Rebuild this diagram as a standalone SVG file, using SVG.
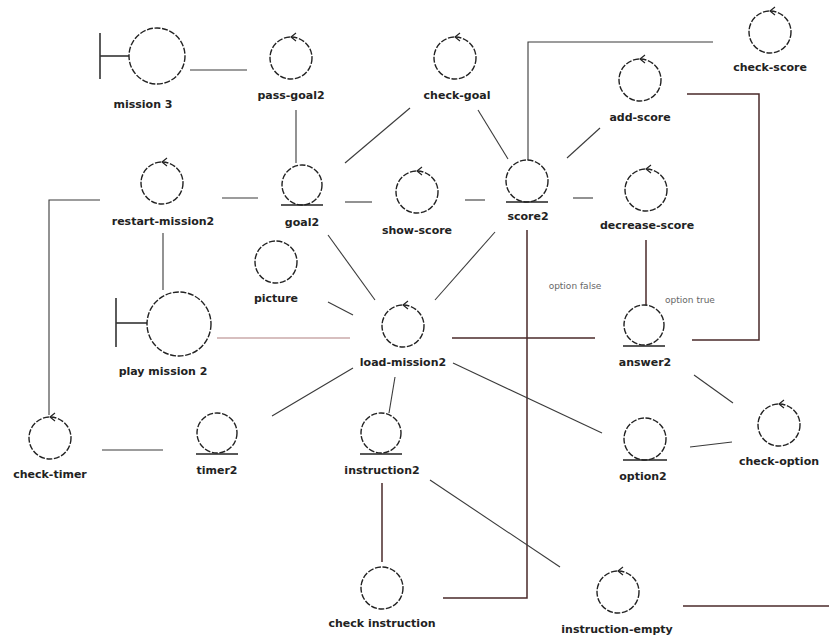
<svg xmlns="http://www.w3.org/2000/svg" width="829" height="637" viewBox="0 0 829 637">
<style>
.bg{fill:#fff}
.c{fill:none;stroke:#222;stroke-width:1.4;stroke-dasharray:6 1.6}
.u{stroke:#222;stroke-width:1.4}
.a{fill:none;stroke:#222;stroke-width:1.2}
.bar{stroke:#333;stroke-width:1.6}
.l{font-family:"DejaVu Sans",Verdana,sans-serif;font-size:11px;font-weight:bold;fill:#222;text-anchor:middle}
.s{font-family:"DejaVu Sans",Verdana,sans-serif;font-size:9px;fill:#666;text-anchor:middle}
.e{fill:none;stroke:#3a3a3a;stroke-width:1.1}
.r{fill:none;stroke:#b08080;stroke-width:1.1}
.d{fill:none;stroke:#4a2a2a;stroke-width:1.5}
</style>
<rect class="bg" x="0" y="0" width="829" height="637"/>
<g id="connectors">
<path class="e" d="M190,70 H247"/>
<path class="e" d="M296,110 V163"/>
<path class="e" d="M410,108 L345,163"/>
<path class="e" d="M478,110 L508,159"/>
<path class="e" d="M528,160 V42 H713"/>
<path class="e" d="M600,128 L567,158"/>
<path class="d" d="M687,94 H759 V340 H692"/>
<path class="e" d="M345,202 H372"/>
<path class="e" d="M465,200 H485"/>
<path class="e" d="M573,198 H593"/>
<path class="d" d="M646,240 V305"/>
<path class="e" d="M222,198 H258"/>
<path class="e" d="M100,200 H49 V415"/>
<path class="e" d="M163,233 V290"/>
<path class="r" d="M217,338 H350"/>
<path class="d" d="M452,338 H595"/>
<path class="e" d="M328,235 L375,300"/>
<path class="e" d="M495,232 L435,300"/>
<path class="e" d="M328,302 L353,315"/>
<path class="d" d="M527,230 V598 H443"/>
<path class="e" d="M272,416 L353,368"/>
<path class="e" d="M102,450 H163"/>
<path class="e" d="M395,377 L389,413"/>
<path class="d" d="M382,483 V562"/>
<path class="e" d="M430,480 L560,567"/>
<path class="d" d="M683,606 H829"/>
<path class="e" d="M453,363 L602,433"/>
<path class="e" d="M690,447 L732,442"/>
<path class="e" d="M694,375 L733,403"/>
<text class="s" x="575" y="289">option false</text>
<text class="s" x="690" y="303">option true</text>
</g>
<g id="mission-3">
<line class="bar" x1="100" y1="33" x2="100" y2="79"/><line class="bar" x1="100" y1="56" x2="129" y2="56"/>
<circle class="c" cx="157" cy="56" r="28"/>
<text class="l" x="143" y="108">mission 3</text>
</g>
<g id="pass-goal2">
<circle class="c" cx="291" cy="58" r="21"/><path class="a" d="M296,33 L291,37 L296,41"/>
<text class="l" x="291" y="99">pass-goal2</text>
</g>
<g id="check-goal">
<circle class="c" cx="455" cy="58" r="21"/><path class="a" d="M460,33 L455,37 L460,41"/>
<text class="l" x="457" y="99">check-goal</text>
</g>
<g id="check-score">
<circle class="c" cx="770" cy="32" r="21"/><path class="a" d="M775,7 L770,11 L775,15"/>
<text class="l" x="770" y="71">check-score</text>
</g>
<g id="add-score">
<circle class="c" cx="640" cy="80" r="21"/><path class="a" d="M645,55 L640,59 L645,63"/>
<text class="l" x="640" y="121">add-score</text>
</g>
<g id="restart-mission2">
<circle class="c" cx="162" cy="183" r="21"/><path class="a" d="M167,158 L162,162 L167,166"/>
<text class="l" x="163" y="225">restart-mission2</text>
</g>
<g id="goal2">
<circle class="c" cx="302" cy="185" r="20"/><line class="u" x1="281" y1="205" x2="323" y2="205"/>
<text class="l" x="302" y="226">goal2</text>
</g>
<g id="show-score">
<circle class="c" cx="417" cy="192" r="21"/><path class="a" d="M422,167 L417,171 L422,175"/>
<text class="l" x="417" y="234">show-score</text>
</g>
<g id="score2">
<circle class="c" cx="527" cy="181" r="21"/><line class="u" x1="506" y1="202" x2="548" y2="202"/>
<text class="l" x="528" y="220">score2</text>
</g>
<g id="decrease-score">
<circle class="c" cx="646" cy="190" r="21"/><path class="a" d="M651,165 L646,169 L651,173"/>
<text class="l" x="647" y="229">decrease-score</text>
</g>
<g id="picture">
<circle class="c" cx="276" cy="262" r="21"/>
<text class="l" x="276" y="302">picture</text>
</g>
<g id="play-mission-2">
<line class="bar" x1="116" y1="298" x2="116" y2="347"/><line class="bar" x1="116" y1="323" x2="147" y2="323"/>
<circle class="c" cx="179" cy="324" r="32"/>
<text class="l" x="163" y="375">play mission 2</text>
</g>
<g id="load-mission2">
<circle class="c" cx="403" cy="326" r="21"/><path class="a" d="M408,301 L403,305 L408,309"/>
<text class="l" x="403" y="366">load-mission2</text>
</g>
<g id="answer2">
<circle class="c" cx="644" cy="325" r="20"/><line class="u" x1="623" y1="346" x2="665" y2="346"/>
<text class="l" x="645" y="366">answer2</text>
</g>
<g id="check-timer">
<circle class="c" cx="50" cy="438" r="21"/><path class="a" d="M55,413 L50,417 L55,421"/>
<text class="l" x="50" y="478">check-timer</text>
</g>
<g id="timer2">
<circle class="c" cx="217" cy="433" r="20"/><line class="u" x1="196" y1="454" x2="238" y2="454"/>
<text class="l" x="217" y="474">timer2</text>
</g>
<g id="instruction2">
<circle class="c" cx="381" cy="433" r="20"/><line class="u" x1="360" y1="454" x2="402" y2="454"/>
<text class="l" x="382" y="474">instruction2</text>
</g>
<g id="option2">
<circle class="c" cx="645" cy="439" r="21"/><line class="u" x1="623" y1="460" x2="667" y2="460"/>
<text class="l" x="643" y="480">option2</text>
</g>
<g id="check-option">
<circle class="c" cx="779" cy="425" r="21"/><path class="a" d="M784,400 L779,404 L784,408"/>
<text class="l" x="779" y="465">check-option</text>
</g>
<g id="check-instruction">
<circle class="c" cx="382" cy="588" r="21"/>
<text class="l" x="382" y="627">check instruction</text>
</g>
<g id="instruction-empty">
<circle class="c" cx="618" cy="592" r="21"/><path class="a" d="M623,567 L618,571 L623,575"/>
<text class="l" x="617" y="633">instruction-empty</text>
</g>
</svg>
